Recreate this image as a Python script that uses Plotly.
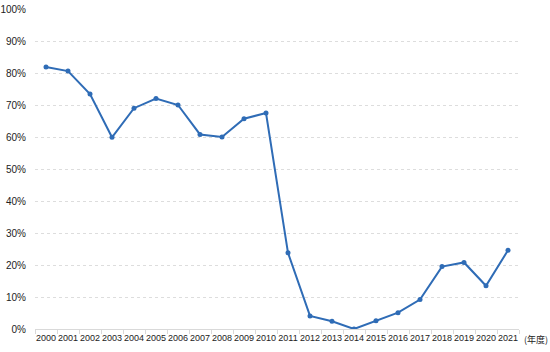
import plotly.graph_objects as go

years = [str(y) for y in range(2000, 2022)]
values = [81.9, 80.6, 73.4, 59.9, 69.0, 72.0, 70.0, 60.8, 60.0, 65.7, 67.5,
          23.8, 4.1, 2.4, 0.0, 2.6, 5.1, 9.2, 19.5, 20.8, 13.5, 24.6]
y_ticks = list(range(0, 101, 10))
unit_label = "(年度)"

line_color = "#2f6cb6"

fig = go.Figure()
fig.add_trace(go.Scatter(
    x=years, y=values, mode="lines+markers",
    line=dict(color=line_color, width=2),
    marker=dict(color=line_color, size=5),
    showlegend=False,
))

font_family = "Liberation Sans, Arial, sans-serif"
fig.update_layout(
    width=550, height=352,
    margin=dict(l=35, r=31, t=9, b=23),
    paper_bgcolor="white", plot_bgcolor="white",
    font=dict(family=font_family, size=10, color="#222222"),
    xaxis=dict(
        type="category", showgrid=False, showline=True, linecolor="#d9d9d9", linewidth=1,
        ticks="outside", tickson="boundaries", ticklen=4, tickcolor="#d9d9d9",
        tickfont=dict(size=9, color="#222222"), tickangle=0, automargin=False,
        zeroline=False, range=[-0.5, len(years) - 0.5],
    ),
    yaxis=dict(
        range=[0, 100], tickvals=y_ticks, ticktext=[f"{v}%" for v in y_ticks],
        showgrid=True, gridcolor="#dddddd", griddash="dot", gridwidth=1,
        zeroline=False, showline=False, ticklabelstandoff=8, automargin=False,
        tickfont=dict(size=10, color="#222222"),
    ),
    annotations=[dict(
        text=unit_label, xref="paper", yref="paper", x=1.0, y=-0.034,
        xanchor="left", yanchor="middle", xshift=3, showarrow=False,
        font=dict(family="Noto Sans CJK JP", size=9, color="#222222"),
    )],
)

fig.write_html("out.html")
